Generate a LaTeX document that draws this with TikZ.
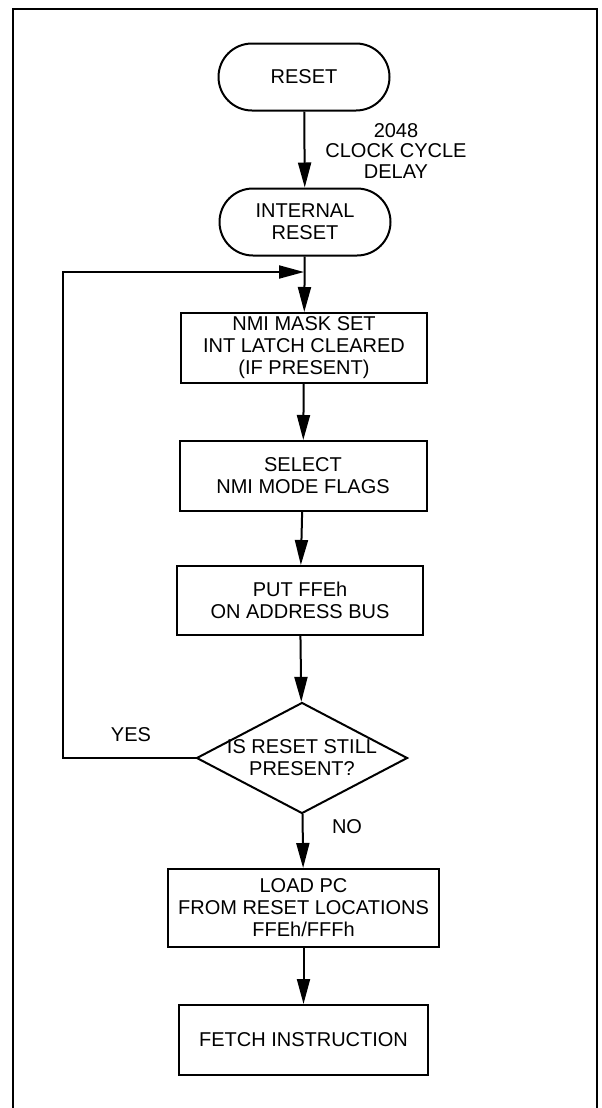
\documentclass[tikz,border=0pt]{standalone}
\usepackage{fontspec}
\setmainfont{Liberation Sans}
\usetikzlibrary{shapes.misc,shapes.geometric,arrows.meta,positioning}

\begin{document}
\begin{tikzpicture}[x=0.5pt,y=-0.5pt,
    txt/.style={font=\fontsize{10}{11}\selectfont, align=center},
    term/.style={txt, draw, line width=1pt, rounded rectangle, minimum width=85.5pt, minimum height=33.5pt, inner sep=0pt},
    proc/.style={txt, draw, line width=1pt, rectangle, minimum height=35pt, inner sep=0pt},
    decide/.style={txt, draw, line width=1pt, diamond, aspect=1.9, minimum width=105.5pt, minimum height=55.5pt, inner sep=-1.5pt},
    arr/.style={line width=1pt, -{Triangle[length=12.5pt,width=6.5pt]}},
    line/.style={line width=1pt}]
    \useasboundingbox (0,0) rectangle (601,1108);

    % frame
    \draw[line width=1.2pt] (13,1108) -- (13,9) -- (597,9) -- (597,1108);

    % start
    \node[term] (reset) at (304,77) {RESET};
    \node[term] (intreset) at (305,222) {INTERNAL\\RESET};
    \node[txt, font=\fontsize{10}{10.3}\selectfont] (delay) at (396,151) {2048\\CLOCK CYCLE\\DELAY};

    % steps
    \node[proc, minimum width=123pt] (nmi) at (304,348) {NMI MASK SET\\INT LATCH CLEARED\\(IF PRESENT)};
    \node[proc, minimum width=123.5pt] (select) at (303,476) {SELECT\\NMI MODE FLAGS};
    \node[proc, minimum width=123pt, minimum height=34.5pt] (putbus) at (300,600.5) {PUT FFEh\\ON ADDRESS BUS};

    % test
    \node[decide] (still) at (302,758) {IS RESET STILL\\PRESENT?};
    \node[txt] (yes) at (131,735) {YES};
    \node[txt] (no) at (347,827) {NO};

    % end
    \node[proc, minimum width=135.5pt, minimum height=39pt] (loadpc) at (303.5,908) {LOAD PC\\FROM RESET LOCATIONS\\FFEh/FFFh};
    \node[proc, minimum width=124.5pt] (fetch) at (303.5,1040) {FETCH INSTRUCTION};

    \coordinate (join) at (304,272);
    \coordinate (corner) at (63,272);

    \draw[arr] (reset) -- (intreset);
    \draw[arr] (intreset) -- (nmi);
    \draw[arr] (nmi) -- (select);
    \draw[arr] (select) -- (putbus);
    \draw[arr] (putbus) -- (still);
    \draw[arr] (still) -- (loadpc);
    \draw[arr] (loadpc) -- (fetch);

    % loop back
    \draw[arr] (still.west) -| (corner) -- (join);
\end{tikzpicture}
\end{document}
